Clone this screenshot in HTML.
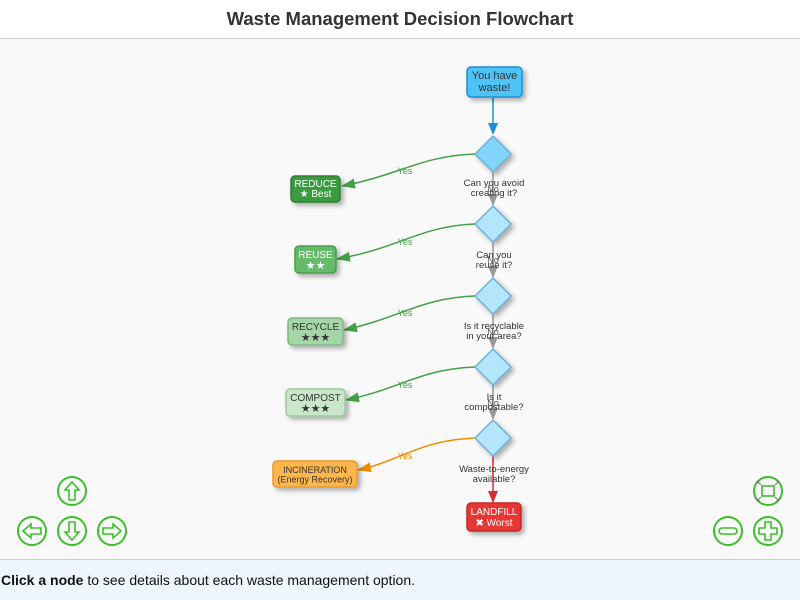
<!DOCTYPE html>
<html><head><meta charset="utf-8"><style>
html,body{margin:0;padding:0;width:800px;height:600px;overflow:hidden;font-family:"Liberation Sans",Arial,sans-serif;background:#fff}
</style></head><body>
<svg width="800" height="600" xmlns="http://www.w3.org/2000/svg" font-family="Liberation Sans, Arial, sans-serif">
<defs>
<filter id="sh" x="-30%" y="-30%" width="180%" height="180%"><feDropShadow dx="3" dy="3" stdDeviation="2.5" flood-color="#000" flood-opacity="0.3"/></filter>
<marker id="ab" markerWidth="10" markerHeight="12" refX="11" refY="5" orient="auto" markerUnits="userSpaceOnUse"><path d="M0,0 L12,5 L0,10 z" fill="#1e8fd0"/></marker>
<marker id="ag" markerWidth="14" markerHeight="10" refX="13" refY="5" orient="auto" markerUnits="userSpaceOnUse"><path d="M0,0 L14,5 L0,10 z" fill="#43a047"/></marker>
<marker id="ay" markerWidth="14" markerHeight="10" refX="13" refY="5" orient="auto" markerUnits="userSpaceOnUse"><path d="M0,0 L14,5 L0,10 z" fill="#ef8c00"/></marker>
<marker id="agr" markerWidth="12" markerHeight="10" refX="11" refY="5" orient="auto" markerUnits="userSpaceOnUse"><path d="M0,0 L12,5 L0,10 z" fill="#999"/></marker>
<marker id="ar" markerWidth="12" markerHeight="10" refX="11" refY="5" orient="auto" markerUnits="userSpaceOnUse"><path d="M0,0 L12,5 L0,10 z" fill="#d32f2f"/></marker>
</defs>
<rect x="0" y="0" width="800" height="38" fill="#fff"/>
<text x="400" y="25" text-anchor="middle" font-size="18.5" font-weight="bold" fill="#333">Waste Management Decision Flowchart</text>
<rect x="0" y="38" width="800" height="521" fill="#f9f9f9"/>
<line x1="0" y1="38.5" x2="800" y2="38.5" stroke="#ccc"/>
<rect x="0" y="559" width="800" height="41" fill="#eef6fd"/>
<line x1="0" y1="559.5" x2="800" y2="559.5" stroke="#ccc"/>
<text x="1" y="585" font-size="14" fill="#111"><tspan font-weight="bold">Click a node</tspan> to see details about each waste management option.</text>

<line x1="493" y1="98" x2="493" y2="134" stroke="#1e8fd0" stroke-width="1.5" marker-end="url(#ab)"/>
<g stroke="#999" stroke-width="1.5" fill="none">
<line x1="493" y1="172" x2="493" y2="205" marker-end="url(#agr)"/>
<line x1="493" y1="242" x2="493" y2="277" marker-end="url(#agr)"/>
<line x1="493" y1="314" x2="493" y2="348" marker-end="url(#agr)"/>
<line x1="493" y1="385" x2="493" y2="419" marker-end="url(#agr)"/>
</g>
<line x1="493" y1="456" x2="493" y2="502" stroke="#d32f2f" stroke-width="1.5" marker-end="url(#ar)"/>
<g fill="none" stroke-width="1.5">
<path d="M475,154 C420,156 400,175 342,186" stroke="#43a047" marker-end="url(#ag)"/>
<path d="M475,224 C420,226 400,248 337,259" stroke="#43a047" marker-end="url(#ag)"/>
<path d="M475,296 C420,298 400,318 344,330" stroke="#43a047" marker-end="url(#ag)"/>
<path d="M475,367 C420,369 400,389 346,400" stroke="#43a047" marker-end="url(#ag)"/>
<path d="M475,438 C420,440 400,461 358,470" stroke="#ef8c00" marker-end="url(#ay)"/>
</g>
<g font-size="9" text-anchor="middle">
<text x="405" y="174" fill="#43a047">Yes</text>
<text x="405" y="245" fill="#43a047">Yes</text>
<text x="405" y="316" fill="#43a047">Yes</text>
<text x="405" y="388" fill="#43a047">Yes</text>
<text x="405" y="459" fill="#ef8c00">Yes</text>
<g fill="#555"><text x="493" y="192">No</text><text x="493" y="263">No</text><text x="493" y="335">No</text><text x="493" y="406">No</text></g>
</g>

<rect x="467" y="67" width="55" height="30" rx="4" fill="#4fc3f7" stroke="#1e8fd0" stroke-width="1.5" filter="url(#sh)"/>
<text x="494.5" y="79" text-anchor="middle" font-size="11" fill="#333">You have</text>
<text x="494.5" y="91" text-anchor="middle" font-size="11" fill="#333">waste!</text>

<g stroke="#6fb0d0" stroke-width="1.5" filter="url(#sh)">
<path d="M493,136 L511,154 L493,172 L475,154 z" fill="#81d4fa"/>
<path d="M493,206 L511,224 L493,242 L475,224 z" fill="#b3e5fc"/>
<path d="M493,278 L511,296 L493,314 L475,296 z" fill="#b3e5fc"/>
<path d="M493,349 L511,367 L493,385 L475,367 z" fill="#b3e5fc"/>
<path d="M493,420 L511,438 L493,456 L475,438 z" fill="#b3e5fc"/>
</g>
<g font-size="9.5" fill="#333" text-anchor="middle">
<text x="494" y="186">Can you avoid</text><text x="494" y="196">creating it?</text>
<text x="494" y="258">Can you</text><text x="494" y="268">reuse it?</text>
<text x="494" y="329">Is it recyclable</text><text x="494" y="339">in your area?</text>
<text x="494" y="400">Is it</text><text x="494" y="410">compostable?</text>
<text x="494" y="472">Waste-to-energy</text><text x="494" y="482">available?</text>
</g>

<g filter="url(#sh)" stroke-width="1.5">
<rect x="291" y="176" width="49" height="26" rx="4" fill="#3b9b3f" stroke="#2e7d32"/>
<rect x="295" y="246" width="41" height="27" rx="4" fill="#66bb6a" stroke="#4a9c4e"/>
<rect x="288" y="318" width="55" height="27" rx="4" fill="#a5d6a7" stroke="#7fb982"/>
<rect x="286" y="389" width="59" height="27" rx="4" fill="#c8e6c9" stroke="#9dc9a0"/>
<rect x="273" y="461" width="84" height="26" rx="4" fill="#ffb74d" stroke="#e89a2c"/>
<rect x="467" y="503" width="54" height="28" rx="4" fill="#e53935" stroke="#c62828"/>
</g>
<g font-size="10" text-anchor="middle">
<text x="315.5" y="187" fill="#fff">REDUCE</text><text x="315.5" y="197" fill="#fff">★ Best</text>
<text x="315.5" y="258" fill="#fff">REUSE</text><text x="315.5" y="269" fill="#fff" font-size="11">★★</text>
<text x="315.5" y="330" fill="#333">RECYCLE</text><text x="315.5" y="341" fill="#333" font-size="11">★★★</text>
<text x="315.5" y="401" fill="#333">COMPOST</text><text x="315.5" y="412" fill="#333" font-size="11">★★★</text>
<text x="315" y="473" fill="#333" font-size="9">INCINERATION</text><text x="315" y="482.5" fill="#333" font-size="9">(Energy Recovery)</text>
<text x="494" y="515" fill="#fff">LANDFILL</text><text x="494" y="526" fill="#fff">✖ Worst</text>
</g>

<g fill="none" stroke="#3cbf2a" stroke-width="2">
<circle cx="72" cy="491" r="14"/><circle cx="32" cy="531" r="14"/><circle cx="72" cy="531" r="14"/><circle cx="112" cy="531" r="14"/>
<circle cx="768" cy="491" r="14"/><circle cx="728" cy="531" r="14"/><circle cx="768" cy="531" r="14"/>
<path d="M72,482 L79,490 L75,490 L75,500 L69,500 L69,490 L65,490 z" stroke-width="1.6"/>
<path d="M72,540 L79,532 L75,532 L75,522 L69,522 L69,532 L65,532 z" stroke-width="1.6"/>
<path d="M23,531 L31,524 L31,528 L41,528 L41,534 L31,534 L31,538 z" stroke-width="1.6"/>
<path d="M121,531 L113,524 L113,528 L103,528 L103,534 L113,534 L113,538 z" stroke-width="1.6"/>
<rect x="719" y="528" width="18" height="6" rx="3" stroke-width="1.6"/>
<path d="M765,522 h6 v6 h6 v6 h-6 v6 h-6 v-6 h-6 v-6 h6 z" stroke-width="1.6"/>
<rect x="762" y="486" width="12" height="10" stroke-width="1.6"/>
</g>
<g stroke="#777" stroke-width="1" fill="none">
<path d="M757,481 l4,4 M757,481 h3 M757,481 v3"/>
<path d="M779,481 l-4,4 M779,481 h-3 M779,481 v3"/>
<path d="M757,501 l4,-4 M757,501 h3 M757,501 v-3"/>
<path d="M779,501 l-4,-4 M779,501 h-3 M779,501 v-3"/>
</g>
</svg>
</body></html>
